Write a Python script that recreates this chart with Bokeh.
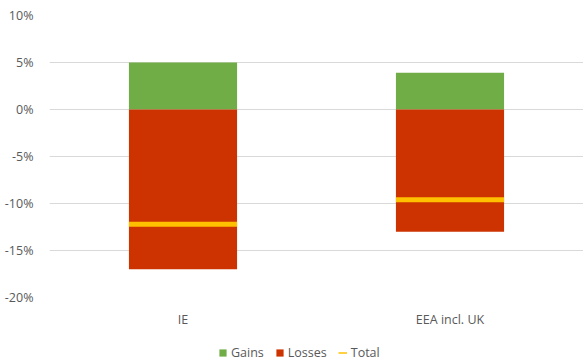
from bokeh.plotting import figure
from bokeh.layouts import column
from bokeh.models import ColumnDataSource, Legend, LegendItem, FixedTicker, Range1d, CustomJSTickFormatter
from bokeh.embed import file_html
from bokeh.resources import INLINE

categories = ["IE", "EEA incl. UK"]
gains = [5.0, 3.9]
losses = [-17.0, -13.0]
total = [-12.2, -9.6]
y_ticks = [-20, -15, -10, -5, 0, 5, 10]

GREEN, RED, GOLD = "#70AD47", "#CC3300", "#FFC000"

src = ColumnDataSource(dict(cat=categories, gains=gains, losses=losses, total=total,
                            zero=[0, 0]))

p = figure(x_range=categories, y_range=Range1d(-20, 10), width=583, height=330,
           output_backend="svg", toolbar_location=None,
           min_border_left=49, min_border_right=0, min_border_top=15, min_border_bottom=33)
p.outline_line_color = None
p.background_fill_color = "white"

p.vbar(x="cat", top="gains", bottom="zero", width=0.405, source=src,
       fill_color=GREEN, line_color=None)
p.vbar(x="cat", top="zero", bottom="losses", width=0.405, source=src,
       fill_color=RED, line_color=None)
p.rect(x="cat", y="total", width=0.405, height=5, height_units="screen", source=src,
       fill_color=GOLD, line_color=None)

p.yaxis.ticker = FixedTicker(ticks=y_ticks)
p.yaxis.formatter = CustomJSTickFormatter(code="return tick + '%';")
for ax in (p.xaxis, p.yaxis):
    ax.axis_line_color = None
    ax.major_tick_line_color = None
    ax.minor_tick_line_color = None
    ax.major_label_text_color = "#595959"
    ax.major_label_text_font = "Open Sans"
    ax.major_label_text_font_size = "12.5px"
p.yaxis.major_label_standoff = 10
p.xaxis.major_label_standoff = 7
p.xgrid.grid_line_color = None
p.ygrid.grid_line_color = "#D9D9D9"
p.ygrid.grid_line_width = 1

# legend strip below the chart
lf = figure(width=583, height=31, x_range=Range1d(0, 1), y_range=Range1d(0, 1),
            output_backend="svg", toolbar_location=None,
            min_border_left=0, min_border_right=0, min_border_top=0, min_border_bottom=0)
lf.axis.visible = False
lf.grid.visible = False
lf.outline_line_color = None
nan = float("nan")
g = lf.vbar(x=[nan], top=[nan], width=0.1, fill_color=GREEN, line_color=None)
l = lf.vbar(x=[nan], top=[nan], width=0.1, fill_color=RED, line_color=None)
t = lf.line(x=[nan], y=[nan], line_color=GOLD, line_width=1.5)

legend = Legend(items=[LegendItem(label="Gains", renderers=[g]),
                       LegendItem(label="Losses", renderers=[l]),
                       LegendItem(label="Total", renderers=[t])],
                orientation="horizontal", location=(169, 0),
                label_text_font="Open Sans", label_text_font_size="12.5px",
                label_text_color="#595959", glyph_width=9, glyph_height=9,
                spacing=11, label_standoff=4, padding=0, margin=0,
                border_line_color=None, background_fill_alpha=0)
lf.add_layout(legend, "center")

layout = column(p, lf, spacing=0)
open("out.html", "w").write(file_html(layout, INLINE))
